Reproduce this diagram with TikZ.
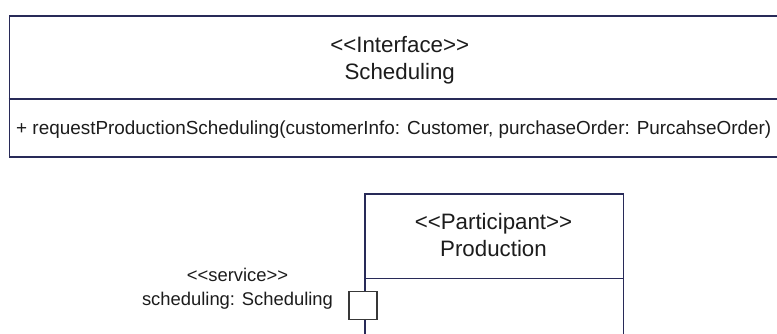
\documentclass[tikz,border=0pt]{standalone}
\usepackage{fontspec}
\setmainfont{Liberation Sans}[Ligatures=TeXOff]
\definecolor{umlline}{RGB}{40,42,88}
\definecolor{umltext}{RGB}{28,28,28}
\definecolor{portline}{RGB}{56,56,56}
\tikzset{
  classbox/.style={draw=umlline, line width=1.6pt, fill=white, rectangle, inner sep=0pt, anchor=north west},
  compline/.style={draw=umlline, line width=1.6pt},
  headtext/.style={text=umltext, inner sep=0pt, anchor=base, font=\fontsize{22.3}{26.7}\selectfont},
  bodytext/.style={text=umltext, inner sep=0pt, anchor=base, font=\fontsize{18.9}{22}\selectfont},
  labeltext/.style={text=umltext, inner sep=0pt, anchor=base, font=\fontsize{18.4}{22}\selectfont},
  portbox/.style={draw=portline, line width=1.3pt, fill=white, rectangle, inner sep=0pt,
    minimum width=28pt, minimum height=28pt}
}
\begin{document}
\begin{tikzpicture}[x=1pt, y=-1pt]
  \useasboundingbox (0,0) rectangle (777,334);
  \clip (0,0) rectangle (777,334);

  % interface class (runs past the right edge)
  \node[classbox, minimum width=800pt, minimum height=141pt] (iface) at (8.7,15) {};
  \coordinate (ifdivL) at (8.7,99.3);
  \coordinate (ifdivR) at (808.7,99.3);
  \draw[compline] (ifdivL) -- (ifdivR);
  \node[headtext] (ifstereo) at (399.7,53) {<<Interface>>};
  \node[headtext] (ifname) at (399.7,80) {Scheduling};
  \node[bodytext, anchor=base west] (ifop) at (16,135)
    {+ requestProductionScheduling(customerInfo: Customer, purchaseOrder: PurcahseOrder)};

  % participant (runs past the bottom edge)
  \node[classbox, minimum width=258.4pt, minimum height=200pt] (prod) at (364.3,193.3) {};
  \coordinate (pdivL) at (364.3,278.3);
  \coordinate (pdivR) at (622.7,278.3);
  \draw[compline] (pdivL) -- (pdivR);
  \node[headtext] (pstereo) at (493.5,229.5) {<<Participant>>};
  \node[headtext] (pname) at (493.5,256.5) {Production};

  % service port on the left edge
  \node[portbox] (port) at (363,305.5) {};
  \node[labeltext] (portst) at (237.5,281.5) {<<service>>};
  \node[labeltext] (portname) at (237.5,305) {scheduling: Scheduling};
\end{tikzpicture}
\end{document}
